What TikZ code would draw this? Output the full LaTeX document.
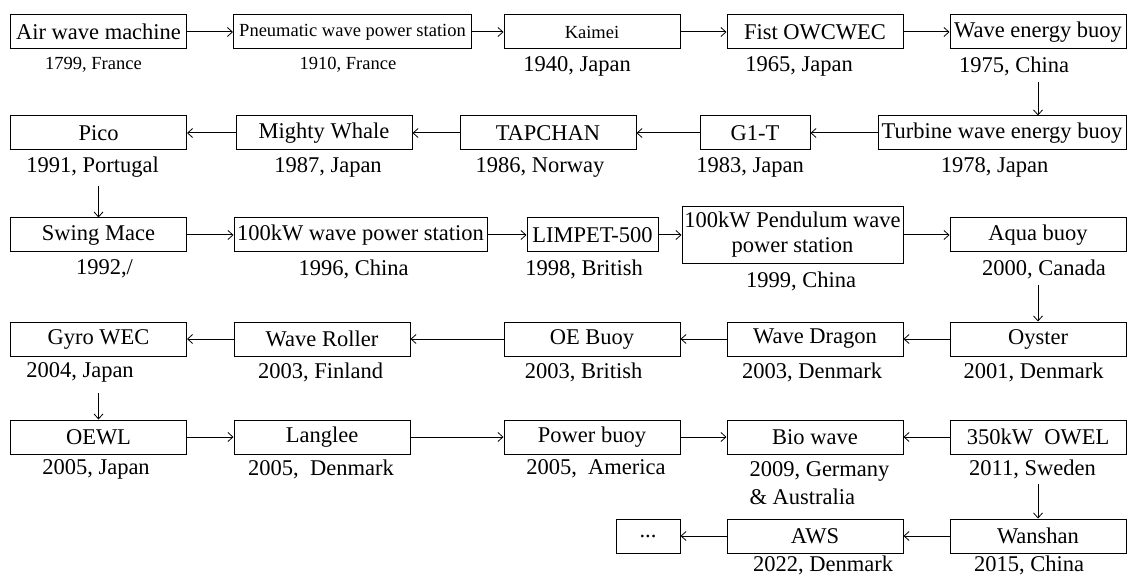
\documentclass[tikz,border=0pt]{standalone}
\usepackage{fontspec}
\setmainfont{Liberation Serif}
\usetikzlibrary{arrows.meta,positioning}

\begin{document}
\begin{tikzpicture}[x=1pt,y=-1pt,line width=1pt,
  every node/.style={font=\fontsize{22.5}{27}\selectfont},
  wecbox/.style={draw,inner sep=0pt,minimum width=176pt,minimum height=34pt,align=center},
  small/.style={font=\fontsize{18.5}{22}\selectfont},
  yr/.style={inner sep=1pt},
  flow/.style={-{Straight Barb[length=5pt,width=9pt,line width=0.8pt]}}]
\useasboundingbox (0,0) rectangle (1129,577);
% row 1
\node[wecbox] (awm) at (98.5,32) {Air wave machine};
\node[wecbox,small,minimum width=238pt] (pws) at (352.5,32) {Pneumatic wave power station};
\node[wecbox,small] (kai) at (592,32) {Kaimei};
\node[wecbox] (fist) at (815,32) {Fist OWCWEC};
\node[wecbox] (web) at (1038,32) {Wave energy buoy};
\node[yr,small] (awm-y) at (93.5,65) {1799, France};
\node[yr,small] (pws-y) at (348,65) {1910, France};
\node[yr] (kai-y) at (577,66) {1940, Japan};
\node[yr] (fist-y) at (799,66) {1965, Japan};
\node[yr] (web-y) at (1014,66) {1975, China};
% row 2
\node[wecbox] (pico) at (98.5,133) {Pico};
\node[wecbox] (mw) at (324,133) {Mighty Whale};
\node[wecbox] (tap) at (548,133) {TAPCHAN};
\node[wecbox,minimum width=110pt] (g1t) at (755,133) {G1-T};
\node[wecbox,minimum width=248pt] (tweb) at (1002,133) {Turbine wave energy buoy};
\node[yr] (pico-y) at (92.5,167) {1991, Portugal};
\node[yr] (mw-y) at (328,167) {1987, Japan};
\node[yr] (tap-y) at (540,167) {1986, Norway};
\node[yr] (g1t-y) at (750,167) {1983, Japan};
\node[yr] (tweb-y) at (994.5,167) {1978, Japan};
% row 3
\node[wecbox] (swing) at (98.5,235) {Swing Mace};
\node[wecbox,minimum width=253pt] (kw) at (360.5,235) {100kW wave power station};
\node[wecbox,minimum width=131pt] (limpet) at (592.5,235) {LIMPET-500};
\node[wecbox,minimum width=221pt,minimum height=57pt,font=\fontsize{22.5}{25}\selectfont] (pend) at (792.5,235) {100kW Pendulum wave\\power station};
\node[wecbox] (aqua) at (1038,235) {Aqua buoy};
\node[yr] (swing-y) at (104.5,269) {1992,/};
\node[yr] (kw-y) at (353.5,269) {1996, China};
\node[yr] (limpet-y) at (584,269) {1998, British};
\node[yr] (pend-y) at (801,281) {1999, China};
\node[yr] (aqua-y) at (1044,269) {2000, Canada};
% row 4
\node[wecbox] (gyro) at (98.5,339) {Gyro WEC};
\node[wecbox] (wr) at (322,339) {Wave Roller};
\node[wecbox] (oe) at (592,339) {OE Buoy};
\node[wecbox] (wd) at (815,339) {Wave Dragon};
\node[wecbox] (oyster) at (1038,339) {Oyster};
\node[yr] (gyro-y) at (80,372) {2004, Japan};
\node[yr] (wr-y) at (320.5,372) {2003, Finland};
\node[yr] (oe-y) at (583.5,372) {2003, British};
\node[yr] (wd-y) at (812,372) {2003, Denmark};
\node[yr] (oyster-y) at (1033.5,372) {2001, Denmark};
% row 5
\node[wecbox] (oewl) at (98.5,437) {OEWL};
\node[wecbox] (lang) at (322,437) {Langlee};
\node[wecbox] (pb) at (592,437) {Power buoy};
\node[wecbox] (bio) at (815,437) {Bio wave};
\node[wecbox] (owel) at (1038,437) {350kW~ OWEL};
\node[yr] (oewl-y) at (96,469) {2005, Japan};
\node[yr] (lang-y) at (321,469) {2005,~ Denmark};
\node[yr] (pb-y) at (596,469) {2005,~ America};
\node[yr,align=left,anchor=west,font=\fontsize{22.5}{28}\selectfont] (bio-y) at (748,483) {2009, Germany\\\& Australia};
\node[yr] (owel-y) at (1032.5,469) {2011, Sweden};
% row 6
\node[wecbox,minimum width=64pt] (dots) at (648,536) {...};
\node[wecbox] (aws) at (815,536) {AWS};
\node[wecbox] (wan) at (1038,536) {Wanshan};
\node[yr] (aws-y) at (823,565) {2022, Denmark};
\node[yr] (wan-y) at (1029,565) {2015, China};
% connectors
\draw[flow] (awm) -- (pws);
\draw[flow] (pws) -- (kai);
\draw[flow] (kai) -- (fist);
\draw[flow] (fist) -- (web);
\draw[flow] ([yshift=-5pt]web-y.south -| web.south) -- (tweb.north -| web.south);
\draw[flow] (tweb) -- (g1t);
\draw[flow] (g1t) -- (tap);
\draw[flow] (tap) -- (mw);
\draw[flow] (mw) -- (pico);
\draw[flow] ([yshift=-7pt]pico-y.south -| pico.south) -- (swing.north);
\draw[flow] (swing) -- (kw);
\draw[flow] (kw) -- (limpet);
\draw[flow] (limpet) -- (pend);
\draw[flow] (pend) -- (aqua);
\draw[flow] ([yshift=-5pt]aqua-y.south -| aqua.south) -- (oyster.north);
\draw[flow] (oyster) -- (wd);
\draw[flow] (wd) -- (oe);
\draw[flow] (oe) -- (wr);
\draw[flow] (wr) -- (gyro);
\draw[flow] ([yshift=-10pt]gyro-y.south -| gyro.south) -- (oewl.north);
\draw[flow] (oewl) -- (lang);
\draw[flow] (lang) -- (pb);
\draw[flow] (pb) -- (bio);
\draw[flow] (owel) -- (bio);
\draw[flow] ([yshift=-4pt]owel-y.south -| owel.south) -- (wan.north);
\draw[flow] (wan) -- (aws);
\draw[flow] (aws) -- (dots);
\end{tikzpicture}
\end{document}
